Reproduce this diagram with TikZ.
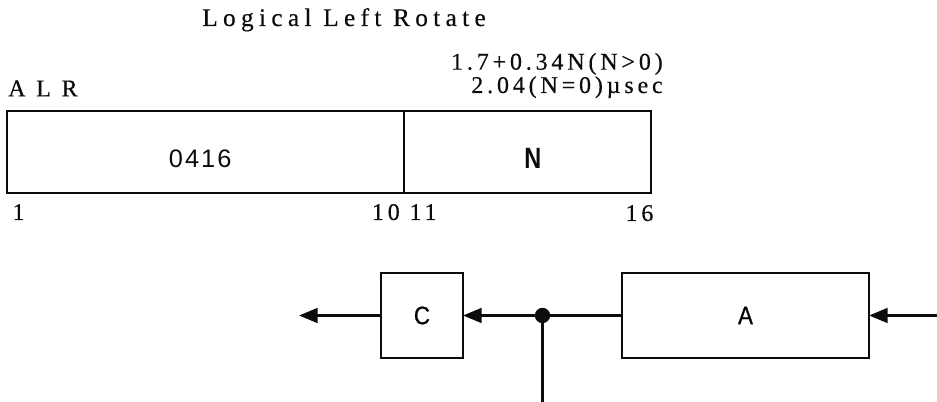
\documentclass[tikz,border=0pt]{standalone}
\usepackage{fontspec}
\usepackage{xcolor}
\usepackage{tikz}
\usetikzlibrary{arrows.meta, positioning, calc}
\newfontfamily\typeserif[LetterSpace=16, FakeBold=0.4]{Liberation Serif}
\newfontfamily\typewide[LetterSpace=21, FakeBold=0.4]{Liberation Serif}
\newfontfamily\leroysans[FakeStretch=0.88, FakeBold=0.8]{Liberation Sans}
\newfontfamily\leroybold[FakeStretch=0.8]{Liberation Sans Bold}
\newfontfamily\leroydigits[LetterSpace=8]{Liberation Sans}
\definecolor{ink}{RGB}{12,12,12}
\tikzset{
  field/.style={rectangle, draw=ink, line width=2.1pt, minimum height=61.5pt,
    inner sep=0pt, outer sep=0pt},
  regbox/.style={rectangle, draw=ink, line width=2.1pt, minimum height=63.75pt,
    inner sep=0pt, outer sep=0pt, font=\leroysans\fontsize{19}{21}\selectfont},
  typetext/.style={inner sep=0pt, text=ink, font=\typeserif\fontsize{18}{20}\selectfont},
  fieldtext/.style={inner sep=0pt, text=ink},
  junc/.style={circle, fill=ink, minimum size=11.5pt, inner sep=0pt},
  arrow/.style={-{Triangle[length=14pt,width=11pt]}, line width=2.1pt, color=ink},
  line/.style={line width=2.1pt, color=ink}
}
\begin{document}
\begin{tikzpicture}[x=0.75pt, y=-0.75pt]
  \useasboundingbox (0,0) rectangle (937,402);
  % Instruction word
  \node[field, minimum width=297.75pt] (opfield) at (205.5,152) {};
  \node[field, minimum width=185.25pt, right=0pt of opfield] (nfield) {};
  \draw[ink, line width=1.4pt] (opfield.north east) -- (opfield.south east);
  \node[fieldtext, font=\leroydigits\fontsize{19}{21}\selectfont]
    at ([xshift=-4pt, yshift=-5pt]opfield.center) (opcode) {0416};
  \node[fieldtext, font=\leroybold\fontsize{22}{24}\selectfont]
    at ([xshift=4pt, yshift=-5pt]nfield.center) (count) {N};

  % Headings
  \node[typetext, font=\typewide\fontsize{19}{21}\selectfont, anchor=base] (title) at (344,26)
    {Logical Left Rotate};
  \node[typetext, anchor=base west] (mnem) at ([xshift=0.75pt, yshift=11pt]opfield.north west)
    {A\hspace{8pt}L\hspace{8pt}R};
  \node[typetext, anchor=base east] (time1) at ([xshift=9pt, yshift=31pt]nfield.north east) {1.7+0.34N(N>0)};
  \node[typetext, anchor=base east] (time2) at ([xshift=9pt, yshift=13.5pt]nfield.north east) {2.04(N=0)µsec};

  % Bit positions
  \node[typetext, anchor=base west] (bit1) at ([xshift=4pt, yshift=-20.25pt]opfield.south west) {1};
  \node[typetext, anchor=base east] (bit10) at ([xshift=-3pt, yshift=-20.25pt]opfield.south east) {10};
  \node[typetext, anchor=base west] (bit11) at ([xshift=4pt, yshift=-20.25pt]nfield.south west) {11};
  \node[typetext, anchor=base east] (bit16) at ([xshift=2pt, yshift=-21pt]nfield.south east) {16};

  % Data path
  \node[regbox, minimum width=185.25pt] (A) at (745.5,315.5) {A};
  \node[regbox, minimum width=61.5pt, left=119.25pt of A] (C) {C};
  \node[junc] (tap) at ($(C.east)!0.5!(A.west)$) {};
  \coordinate[left=61.5pt of C.west] (out);
  \coordinate (in) at (937,315.5);
  \coordinate (tapend) at (tap |- 0,402);

  \draw[arrow] (in) -- (A.east);
  \draw[line]  (A.west) -- (tap);
  \draw[arrow] (tap) -- (C.east);
  \draw[arrow] (C.west) -- (out);
  \draw[line]  (tap) -- (tapend);
\end{tikzpicture}
\end{document}
